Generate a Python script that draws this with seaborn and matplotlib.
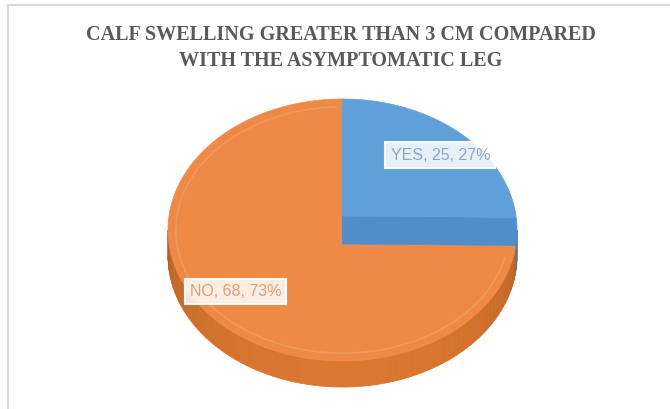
import numpy as np
import matplotlib
matplotlib.use("Agg")
import matplotlib.pyplot as plt
import seaborn as sns
from matplotlib.patches import Polygon

# ---- data ----
categories = ["YES", "NO"]
counts = [25, 68]
title_lines = ["CALF SWELLING GREATER THAN 3 CM COMPARED",
               "WITH THE ASYMPTOMATIC LEG"]

sns.set_theme(style="white")
plt.rcParams['font.family'] = ['Liberation Sans', 'DejaVu Sans']

top_colors = sns.color_palette(["#5FA0DB", "#EE8A45"])
band_color = "#4F8DCB"
side_colors = [np.array(matplotlib.colors.to_rgb("#4E8BC9")),
               np.array(matplotlib.colors.to_rgb("#DC772F"))]
label_text_colors = ["#8AA6CA", "#D9A077"]

fig = plt.figure(figsize=(6.7, 4.09), dpi=100)
ax = fig.add_axes([0, 0, 1, 1])
ax.set_xlim(0, 670)
ax.set_ylim(409, 0)
ax.axis('off')

# geometry of the tilted pie (pixel space)
cx, cy, a, b = 342.5, 230.0, 174.5, 131.0
depth = 26.0
lift = 28.0


def rim(t, dy=0.0, sa=1.0, sb=1.0):
    t = np.radians(np.atleast_1d(t))
    return np.column_stack([cx + sa * a * np.sin(t), cy - sb * b * np.cos(t) + dy])


total = float(sum(counts))
fracs = [c / total for c in counts]
bounds = np.concatenate([[0.0], np.cumsum(fracs) * 360.0])
pcts = [int(round(f * 100)) for f in fracs]

# ---- side walls (front half only: 90..270 deg) ----
for i in range(len(counts)):
    t0, t1 = max(bounds[i], 90.0), min(bounds[i + 1], 270.0)
    if t1 <= t0:
        continue
    edges = np.linspace(t0, t1, max(int((t1 - t0) / 2) + 1, 2))
    for s0, s1 in zip(edges[:-1], edges[1:]):
        ts = np.linspace(s0, s1, 4)
        mid = np.radians((s0 + s1) / 2)
        shade = 0.78 + 0.22 * (-np.cos(mid)) ** 0.6
        col = np.clip(side_colors[i] * shade, 0, 1)
        poly = np.vstack([rim(ts), rim(ts[::-1], dy=depth)])
        ax.add_patch(Polygon(poly, closed=True, fc=col, ec=col, lw=0.6))

# ---- top faces ----
t_end = bounds[1]
V = (cx, cy + lift / 2)
Vp = (cx, cy - lift / 2)
t_cut = np.degrees(np.arccos(np.clip(np.cos(np.radians(t_end)) + lift / b, -1, 1)))

# NO slice top
ts = np.linspace(t_end, 360.0, 300)
ax.add_patch(Polygon(np.vstack([[V], rim(ts)]), closed=True,
                     fc=top_colors[1], ec=top_colors[1], lw=0.5))
# faint bevel ring on NO top
ring = rim(np.linspace(t_end + 6, 358, 300), sa=0.955, sb=0.94)
ax.plot(ring[:, 0], ring[:, 1], color="#F2A068", lw=1.2, alpha=0.7)

# cut face of YES slice
ts_b = np.linspace(t_cut, t_end, 30)
ax.add_patch(Polygon(np.vstack([[Vp], rim(ts_b), [V]]), closed=True,
                     fc=band_color, ec=band_color, lw=0.5))
# YES slice top
ts = np.linspace(0.0, t_cut, 150)
ax.add_patch(Polygon(np.vstack([[Vp], rim(ts)]), closed=True,
                     fc=top_colors[0], ec=top_colors[0], lw=0.5))

# ---- data labels ----
label_rx = [0.75, 0.82]
label_ry = [0.70, 0.71]
label_dy = [-lift / 2, 0.0]
for i, cat in enumerate(categories):
    mid = np.radians((bounds[i] + bounds[i + 1]) / 2)
    x = cx + label_rx[i] * a * np.sin(mid)
    y = cy - label_ry[i] * b * np.cos(mid) + label_dy[i]
    ax.text(x, y, f"{cat}, {counts[i]}, {pcts[i]}%", ha="center", va="center",
            fontsize=11.5, color=label_text_colors[i],
            bbox=dict(boxstyle="square,pad=0.32", fc=(1, 1, 1, 0.85),
                      ec=(1, 1, 1, 0.95), lw=1.5))

# ---- title ----
for k, line in enumerate(title_lines):
    fig.text(341 / 670, 1 - (35 + 26 * k) / 409, line, ha="center", va="center",
             fontsize=14.5, fontweight="bold", color="#595959",
             family=["Liberation Serif", "DejaVu Serif"])

# ---- chart frame ----
ax.plot([7.5, 670], [4.8, 4.8], color="#D9D9D9", lw=1.5)
ax.plot([7.5, 7.5], [4.8, 409], color="#D9D9D9", lw=1.5)

fig.savefig("out.png", dpi=100)
